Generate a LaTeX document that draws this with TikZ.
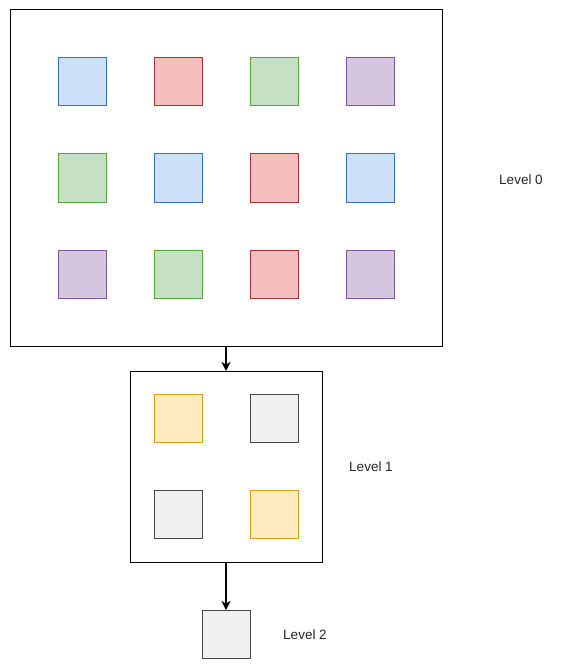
\documentclass[tikz,border=0pt]{standalone}
\usepackage{fontspec}
\setmainfont{Liberation Sans}
\usetikzlibrary{arrows.meta}
\definecolor{bF}{HTML}{CCDFF9}\definecolor{bS}{HTML}{3D6DC2}
\definecolor{rF}{HTML}{F5BDBC}\definecolor{rS}{HTML}{B22E2E}
\definecolor{gF}{HTML}{C6E0C3}\definecolor{gS}{HTML}{5EA23A}
\definecolor{pF}{HTML}{D6C5DE}\definecolor{pS}{HTML}{8057A0}
\definecolor{yF}{HTML}{FFEBBE}\definecolor{yS}{HTML}{D49F1E}
\definecolor{kF}{HTML}{F0F0F0}\definecolor{kS}{HTML}{474747}
\tikzset{
  sq/.style={draw=#1S,fill=#1F,line width=1pt,minimum width=48pt,minimum height=48pt,inner sep=0pt,outer sep=0pt},
  frame/.style={draw=black,line width=1pt,fill=white,inner sep=0pt,outer sep=0pt},
  lbl/.style={font=\fontsize{13.5pt}{16pt}\selectfont,text=black!85,inner sep=0pt},
  conn/.style={line width=1.2pt,-{Stealth[length=9pt,width=9pt,inset=2.5pt]}}
}
\begin{document}
\begin{tikzpicture}[x=1pt,y=-1pt]
\useasboundingbox (0,0) rectangle (563,671);
\node[frame,minimum width=432pt,minimum height=336pt] (top) at (226,178) {};
\node[frame,minimum width=192pt,minimum height=191pt] (mid) at (226,466.5) {};
% level 0 grid
\node[sq=b] (a11) at (82,82) {};
\node[sq=r] (a12) at (178,82) {};
\node[sq=g] (a13) at (274,82) {};
\node[sq=p] (a14) at (370,82) {};
\node[sq=g] (a21) at (82,178) {};
\node[sq=b] (a22) at (178,178) {};
\node[sq=r] (a23) at (274,178) {};
\node[sq=b] (a24) at (370,178) {};
\node[sq=p] (a31) at (82,274) {};
\node[sq=g] (a32) at (178,274) {};
\node[sq=r] (a33) at (274,274) {};
\node[sq=p] (a34) at (370,274) {};
% level 1
\node[sq=y] (b11) at (178,418) {};
\node[sq=k] (b12) at (274,418) {};
\node[sq=k] (b21) at (178,514) {};
\node[sq=y] (b22) at (274,514) {};
% level 2
\node[sq=k] (c) at (226,634) {};
% labels
\node[lbl] (l0) at (521,180) {Level 0};
\node[lbl] (l1) at (371,467) {Level 1};
\node[lbl] (l2) at (305,635) {Level 2};
% connectors
\draw[conn] (top.south) -- (mid.north);
\draw[conn] (mid.south) -- (c.north);
\end{tikzpicture}
\end{document}
